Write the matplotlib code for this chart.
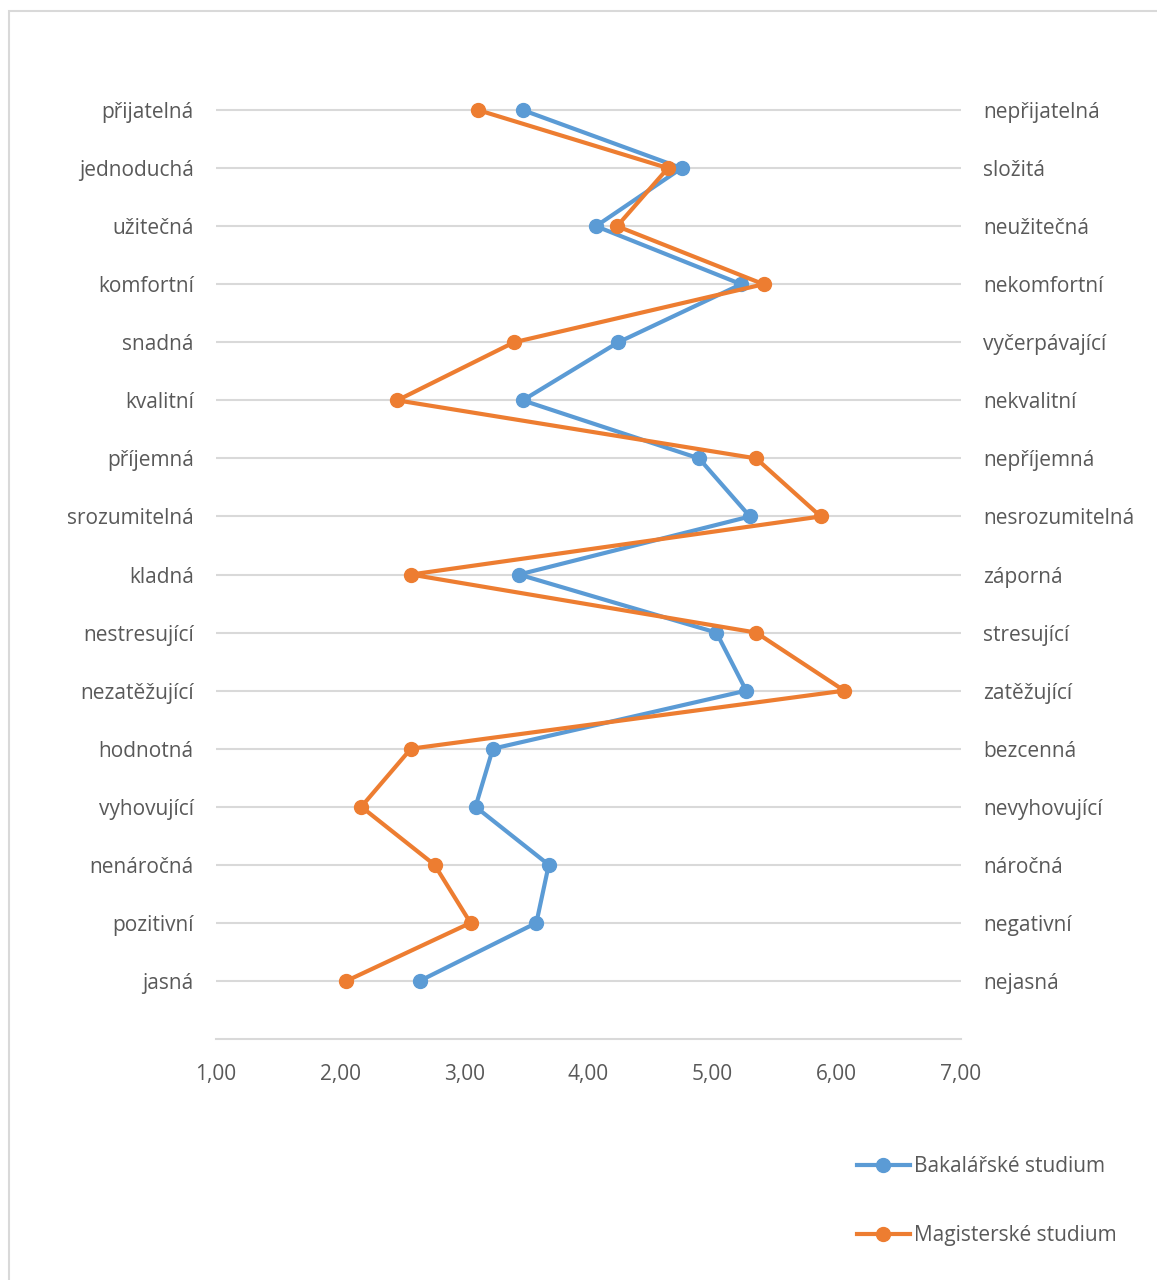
import matplotlib.pyplot as plt
from matplotlib.patches import Rectangle

# left / right adjective pairs (top to bottom)
left_labels = ['přijatelná', 'jednoduchá', 'užitečná', 'komfortní', 'snadná', 'kvalitní',
               'příjemná', 'srozumitelná', 'kladná', 'nestresující', 'nezatěžující',
               'hodnotná', 'vyhovující', 'nenáročná', 'pozitivní', 'jasná']
right_labels = ['nepřijatelná', 'složitá', 'neužitečná', 'nekomfortní', 'vyčerpávající',
                'nekvalitní', 'nepříjemná', 'nesrozumitelná', 'záporná', 'stresující',
                'zatěžující', 'bezcenná', 'nevyhovující', 'náročná', 'negativní', 'nejasná']

bakalarske = [3.47, 4.75, 4.06, 5.23, 4.24, 3.47, 4.89, 5.30, 3.44, 5.03, 5.27,
              3.23, 3.09, 3.68, 3.58, 2.64]
magisterske = [3.11, 4.64, 4.23, 5.41, 3.40, 2.46, 5.35, 5.87, 2.57, 5.35, 6.06,
               2.57, 2.17, 2.76, 3.05, 2.05]

x_ticks = [1, 2, 3, 4, 5, 6, 7]

plt.rcParams['font.family'] = ['Open Sans', 'DejaVu Sans']
text_col = '#595959'
grid_col = '#d9d9d9'
fs = 15

fig = plt.figure(figsize=(11.57, 12.8), dpi=100)
# light chart border (right/bottom edges fall outside the image)
fig.patches.append(Rectangle((9 / 1157, -0.01), 1.1, 1 - 11 / 1280 + 0.01,
                             transform=fig.transFigure, fill=False,
                             edgecolor='#d9d9d9', linewidth=1.5))

ax = fig.add_axes([216 / 1157, 1 - 1039 / 1280, (961 - 216) / 1157, (1039 - 52) / 1280])
rows = list(range(len(left_labels)))

for r in rows:
    ax.axhline(r, color=grid_col, linewidth=1.5, zorder=1)

ax.plot(bakalarske, rows, color='#5b9bd5', linewidth=3, marker='o', markersize=10,
        label='Bakalářské studium', zorder=3)
ax.plot(magisterske, rows, color='#ed7d31', linewidth=3, marker='o', markersize=10,
        label='Magisterské studium', zorder=3)

ax.set_xlim(1, 7)
ax.set_ylim(16, -1)
ax.set_xticks(x_ticks)
ax.set_xticklabels([('%.2f' % v).replace('.', ',') for v in x_ticks])
ax.set_yticks(rows)
ax.set_yticklabels(left_labels)
ax.tick_params(axis='both', length=0, labelsize=fs, colors=text_col)
ax.tick_params(axis='y', pad=16)
ax.tick_params(axis='x', pad=18)

ax2 = ax.twinx()
ax2.set_ylim(16, -1)
ax2.set_yticks(rows)
ax2.set_yticklabels(right_labels)
ax2.tick_params(axis='y', length=0, labelsize=fs, colors=text_col, pad=16)

for a in (ax, ax2):
    for s in a.spines.values():
        s.set_visible(False)
ax.spines['bottom'].set_visible(True)
ax.spines['bottom'].set_color(grid_col)
ax.spines['bottom'].set_linewidth(1.5)

handles, labels = ax.get_legend_handles_labels()
leg = fig.legend(handles, labels, loc='center left', bbox_to_anchor=(838 / 1157, 1 - 1201 / 1280),
                 frameon=False, fontsize=fs, labelspacing=2.3, handlelength=2.55,
                 handletextpad=0.2)
for t in leg.get_texts():
    t.set_color(text_col)

fig.savefig('out.png', dpi=100)
